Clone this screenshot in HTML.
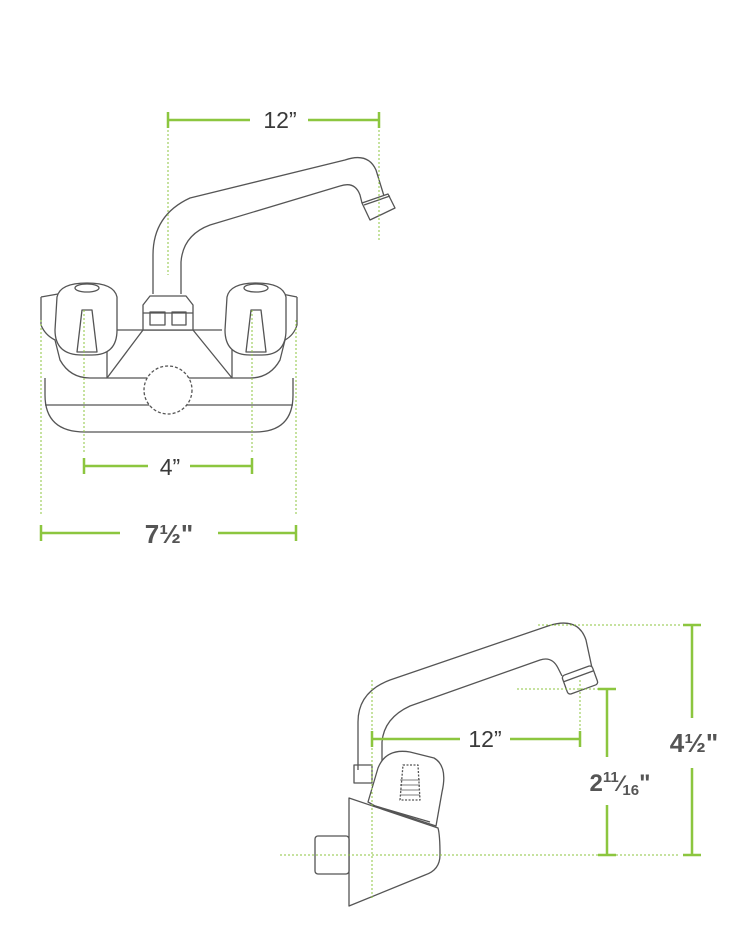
<!DOCTYPE html>
<html><head><style>html,body{margin:0;padding:0;background:#fff}svg{display:block}</style></head>
<body>
<svg width="738" height="942" viewBox="0 0 738 942" xmlns="http://www.w3.org/2000/svg">
<g fill="none" stroke="#555" stroke-width="1.3" stroke-linejoin="round">
<!-- top view spout -->
<path d="M153,294 L153,255 Q153,215 190,198 L345,160 Q368,152 376,170 L384,196"/>
<path d="M181,294 L181,262 Q183,235 210,225 L340,186 Q355,181 360,195 L362,203"/>
<path d="M362,203 L388,194 L395,208 L370,220 Z" fill="#fff"/>
<path d="M364,205 L390,196"/>
<!-- base -->
<path d="M45,378 L45,395 Q45,432 85,432 L255,432 Q293,432 293,395 L293,378"/>
<path d="M45,405 L293,405"/>
<path d="M41,297 L58,294 M41,297 L41,325 Q45,335 55,340 L60,360 Q70,378 90,378 L107,378"/>
<path d="M297,297 L282,294 M297,297 L297,325 Q294,335 285,340 L280,360 Q270,378 250,378 L232,378"/>
<path d="M117,330 L222,330"/>
<path d="M107,330 L107,378 L232,378 L232,330"/>
<path d="M143,330 L107,378 M193,330 L232,378 M143,330 L193,330"/>
<path d="M143,330 L143,305 L150,296 L186,296 L193,305 L193,330 Z" fill="#fff"/>
<path d="M150,312 L165,312 L165,325 L150,325 Z M172,312 L186,312 L186,325 L172,325 Z"/>
<path d="M143,313 L193,313"/>
<!-- knobs -->
<path d="M57,297 Q60,283 87,283 Q114,283 117,297 L117,330 Q117,355 92,355 L82,355 Q55,355 55,330 Z" fill="#fff"/>
<ellipse cx="87" cy="288" rx="12" ry="4"/>
<path d="M82,310 L92,310 L97,352 L77,352 Z"/>
<path d="M227,297 Q230,283 256,283 Q283,283 286,297 L286,330 Q286,355 262,355 L250,355 Q225,355 225,330 Z" fill="#fff"/>
<ellipse cx="256" cy="288" rx="12" ry="4"/>
<path d="M251,310 L261,310 L266,352 L246,352 Z"/>
<circle cx="168" cy="390" r="24" stroke-dasharray="3,2" fill="#fff"/>
<!-- side view -->
<path d="M358,770 L358,722 Q358,692 390,680 L548,626 Q578,616 586,640 L592,668"/>
<path d="M382,770 L382,742 Q384,718 410,706 L540,660 Q552,656 558,668 L562,676"/>
<g transform="rotate(-20 580 680)"><rect x="564" y="670" width="32" height="20" rx="3" fill="#fff"/><path d="M564,676 H596"/></g>
<path d="M354,765 L372,765 L372,783 L354,783 Z"/>
<path d="M368,802 L378,768 Q386,748 410,752 L434,758 Q448,766 442,792 L436,826 L375,806 Z" fill="#fff"/>
<path d="M403,765 L418,765 L420,800 L400,800 Z" stroke-dasharray="2,1.5"/>
<path d="M400,790 L420,790 M400,795 L420,795 M400,785 L420,785 M400,780 L420,780" stroke-width="0.8"/>
<path d="M349,798 L438,828 Q440,835 440,855 Q440,870 425,875 L349,906 Z" fill="#fff"/>
<path d="M372,805 L430,822"/>
<rect x="315" y="836" width="34" height="38" rx="3" fill="#fff"/>
</g>
<g stroke="#8cc63f" stroke-width="1" stroke-dasharray="2,2" fill="none">
<path d="M168,130 V275 M379,130 V240 M84,310 V452 M252,310 V452 M41,320 V515 M296,320 V515"/>
<path d="M538,625 H680 M280,855 H680 M517,689 H600 M372,680 V900 M580,680 V740"/>
</g>
<g stroke="#8cc63f" stroke-width="2.5" fill="none">
<path d="M168,120 H250 M308,120 H379 M168,112 V128 M379,112 V128"/>
<path d="M84,466 H148 M190,466 H252 M84,458 V474 M252,458 V474"/>
<path d="M41,533 H120 M218,533 H296 M41,525 V541 M296,525 V541"/>
<path d="M372,739 H460 M510,739 H580 M372,731 V747 M580,731 V747"/>
<path d="M607,689 V757 M607,805 V855 M598,689 H616 M598,855 H616"/>
<path d="M692,625 V718 M692,768 V855 M683,625 H701 M683,855 H701"/>
</g>
<g font-family="Liberation Sans, sans-serif" fill="#3a3a3a" text-anchor="middle">
<text x="280" y="128" font-size="23">12”</text>
<text x="170" y="475" font-size="23">4”</text>
<text x="169" y="543" font-size="26" font-weight="bold" fill="#555">7½"</text>
<text x="485" y="747" font-size="23">12”</text>
<text x="620" y="791" font-size="24" font-weight="bold" fill="#555">2<tspan font-size="15" dy="-9">11</tspan><tspan font-size="22" dy="9">⁄</tspan><tspan font-size="15" dy="4">16</tspan><tspan dy="-4">"</tspan></text>
<text x="694" y="752" font-size="26" font-weight="bold" fill="#555">4½"</text>
</g>
</svg>
</body></html>
